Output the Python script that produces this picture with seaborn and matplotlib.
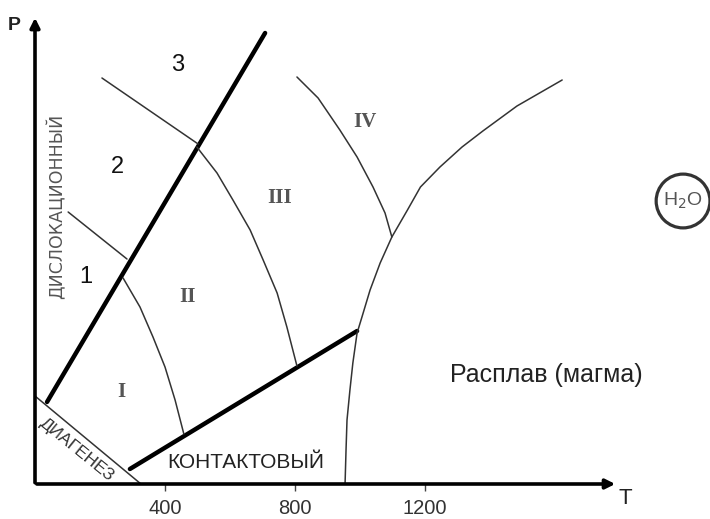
import matplotlib
matplotlib.use('Agg')
import matplotlib.pyplot as plt
import seaborn as sns

sns.set_theme(style='white')
plt.rcParams['font.family'] = ['Liberation Sans', 'DejaVu Sans']

# P-T диаграмма метаморфизма (T в °C, P в условных единицах)
dislocation_T = [37, 708]
dislocation_P = [8.2, 45.1]

contact_T = [292, 991]
contact_P = [1.5, 15.3]

diagenesis_T = [0, 326]
diagenesis_P = [8.8, 0.0]

sub12_T = [102, 283]
sub12_P = [27.2, 22.5]

sub23_T = [206, 502]
sub23_P = [40.6, 34.0]

b_I_II_T = [271, 323, 363, 400, 431, 458]
b_I_II_P = [20.6, 17.7, 14.7, 11.7, 8.4, 5.0]

b_II_III_T = [498, 560, 609, 662, 702, 745, 775, 806]
b_II_III_P = [33.7, 31.1, 28.4, 25.4, 22.4, 19.1, 15.7, 11.8]

b_III_IV_T = [806, 871, 938, 991, 1040, 1077, 1098]
b_III_IV_P = [40.7, 38.6, 35.4, 32.7, 29.7, 27.1, 24.7]

melt_T = [954, 957, 960, 969, 978, 991, 1006, 1031, 1062, 1098,
          1146, 1186, 1246, 1314, 1378, 1483, 1622]
melt_P = [0.0, 3.4, 6.4, 9.4, 12.1, 15.1, 16.7, 19.4, 22.1, 24.7,
          27.4, 29.7, 31.7, 33.7, 35.3, 37.8, 40.4]

ticks = [400, 800, 1200]
tick_labels = ['400', '800', '1200']

zone_labels = ['1', '2', '3']
zone_T = [157, 255, 440]
zone_P = [20.7, 31.7, 41.9]

facies_labels = ['I', 'II', 'III', 'IV']
facies_T = [265, 468, 754, 1015]
facies_P = [9.2, 18.7, 28.6, 36.2]

fig = plt.figure(figsize=(7.1, 5.19), dpi=100)
ax = fig.add_axes([0, 0, 1, 1])
ax.set_xlim(-107.7, 2076.9)
ax.set_ylim(-3.5, 48.4)
ax.axis('off')

# оси со стрелками
ax.annotate('', xy=(1794, 0), xytext=(-3, 0),
            arrowprops=dict(arrowstyle='-|>', lw=2.6, color='black', mutation_scale=14))
ax.annotate('', xy=(0, 46.9), xytext=(0, -0.15),
            arrowprops=dict(arrowstyle='-|>', lw=2.6, color='black', mutation_scale=14))
ax.vlines(ticks, -0.7, 0, color='#444444', lw=1)
for t, lab in zip(ticks, tick_labels):
    ax.text(t, -2.4, lab, ha='center', va='center', fontsize=14.5, color='#333333')
ax.text(1815, -1.5, 'T', ha='center', va='center', fontsize=16, color='#222222')
ax.text(-65, 45.8, 'P', ha='center', va='center', fontsize=14, fontweight='bold', color='#222222')

# толстые границы
for xs, ys in [(dislocation_T, dislocation_P), (contact_T, contact_P)]:
    sns.lineplot(x=xs, y=ys, sort=False, estimator=None, color='black', lw=3.2, ax=ax)

# тонкие границы
thin = [(diagenesis_T, diagenesis_P), (sub12_T, sub12_P), (sub23_T, sub23_P),
        (b_I_II_T, b_I_II_P), (b_II_III_T, b_II_III_P), (b_III_IV_T, b_III_IV_P),
        (melt_T, melt_P)]
for xs, ys in thin:
    sns.lineplot(x=xs, y=ys, sort=False, estimator=None, color='#333333', lw=1.1, ax=ax)

for lab, t, p in zip(zone_labels, zone_T, zone_P):
    ax.text(t, p, lab, ha='center', va='center', fontsize=17, color='#111111')

for lab, t, p in zip(facies_labels, facies_T, facies_P):
    ax.text(t, p, lab, ha='center', va='center', fontsize=15, fontweight='bold',
            family='Liberation Serif', color='#555555')

ax.text(68, 27.8, 'ДИСЛОКАЦИОННЫЙ', rotation=90, ha='center', va='center',
        fontsize=12.5, family='DejaVu Sans', color='#555555')
ax.text(129, 3.4, 'ДИАГЕНЕЗ', rotation=-39, ha='center', va='center',
        fontsize=12.5, color='#333333', rotation_mode='anchor')
ax.text(649, 2.1, 'КОНТАКТОВЫЙ', ha='center', va='center', fontsize=15, color='#222222')
ax.text(1572, 10.9, 'Расплав (магма)', ha='center', va='center', fontsize=18, color='#222222')

ax.scatter([1994], [28.3], s=1500, facecolors='none', edgecolors='#333333', linewidths=2.3)
ax.text(1994, 28.3, r'H$_2$O', ha='center', va='center', fontsize=14, color='#555555')

fig.savefig('out.png', dpi=100)
